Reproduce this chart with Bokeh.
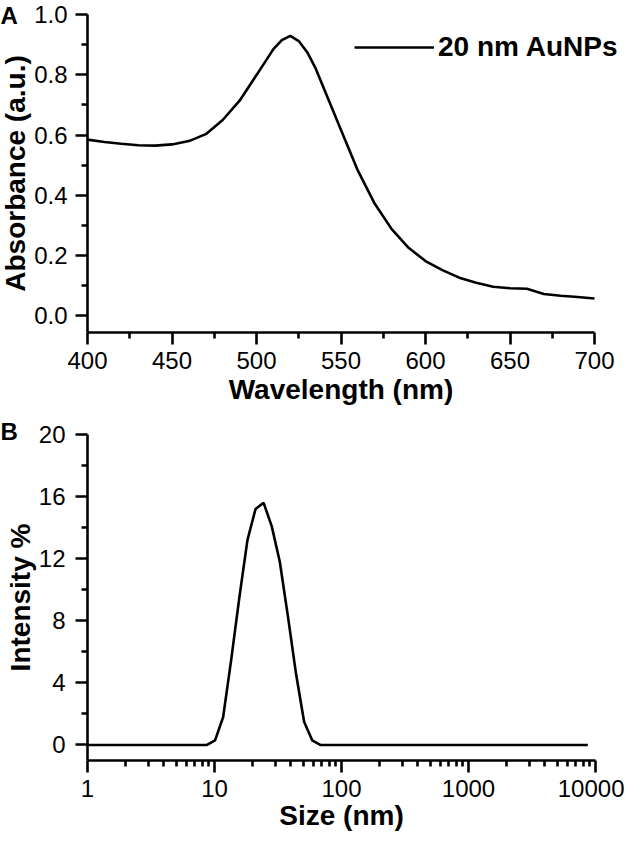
import math
from bokeh.plotting import figure
from bokeh.layouts import column
from bokeh.models import (FixedTicker, Range1d, Legend, LegendItem, Label,
                          PrintfTickFormatter)
from bokeh.embed import file_html
from bokeh.resources import INLINE

# ---- Panel A: UV-vis absorbance ----
wavelength = [400, 410, 420, 430, 440, 450, 460, 470, 480, 490, 500, 505, 510,
              515, 520, 525, 530, 535, 540, 545, 550, 560, 570, 580, 590, 600,
              610, 620, 630, 640, 650, 660, 670, 680, 690, 700]
absorbance = [0.585, 0.577, 0.571, 0.566, 0.565, 0.569, 0.580, 0.603, 0.650,
              0.714, 0.799, 0.842, 0.885, 0.915, 0.929, 0.912, 0.875, 0.821,
              0.753, 0.685, 0.617, 0.482, 0.372, 0.288, 0.226, 0.182, 0.152,
              0.127, 0.110, 0.097, 0.092, 0.090, 0.073, 0.067, 0.063, 0.058]
wl_bounds = (400, 700)
abs_bounds = (-0.055, 1.0)
wl_ticks = [400, 450, 500, 550, 600, 650, 700]
wl_minor = [425, 475, 525, 575, 625, 675]
abs_ticks = [0.0, 0.2, 0.4, 0.6, 0.8, 1.0]
abs_minor = [0.1, 0.3, 0.5, 0.7, 0.9]
legend_label = "20 nm AuNPs"

# ---- Panel B: DLS size distribution ----
size_nm = [1, 8.72, 10.1, 11.7, 13.54, 15.69, 18.17, 21.04, 24.36, 28.21,
           32.67, 37.84, 43.82, 50.75, 58.77, 68.06, 8700]
intensity = [0, 0, 0.3, 1.8, 5.5, 9.5, 13.2, 15.2, 15.6, 14.1, 11.8, 8.3,
             4.6, 1.5, 0.3, 0, 0]
size_bounds = (1, 10000)
int_bounds = (-1, 20)
size_ticks = [1, 10, 100, 1000, 10000]
size_minor = [m * d for d in (1, 10, 100, 1000) for m in range(2, 10)]
int_ticks = [0, 4, 8, 12, 16, 20]
int_minor = [2, 6, 10, 14, 18]

FONT = "Liberation Sans"
W = 624
H1 = 416
H2 = 424


def lin_range(va, pa, vb, pb, size):
    s = (vb - va) / (pb - pa)
    return va - pa * s, va + (size - pa) * s


def log_range(va, pa, vb, pb, size):
    a, b = lin_range(math.log10(va), pa, math.log10(vb), pb, size)
    return 10 ** a, 10 ** b


def style_axis(ax, ticks, minor, fmt):
    ax.ticker = FixedTicker(ticks=ticks, minor_ticks=minor)
    ax.formatter = PrintfTickFormatter(format=fmt)
    ax.axis_line_width = 2.6
    ax.axis_line_color = "black"
    ax.major_tick_line_width = 2.6
    ax.minor_tick_line_width = 2.6
    ax.major_tick_line_color = "black"
    ax.minor_tick_line_color = "black"
    ax.major_tick_out = 12
    ax.major_tick_in = 0
    ax.minor_tick_out = 6
    ax.minor_tick_in = 0
    ax.major_label_text_font = FONT
    ax.major_label_text_font_size = "24px"
    ax.major_label_text_color = "black"
    ax.axis_label_text_font = FONT
    ax.axis_label_text_font_style = "bold"
    ax.axis_label_text_font_size = "28px"
    ax.axis_label_text_color = "black"


def base_fig(**kw):
    p = figure(output_backend="svg", toolbar_location=None, min_border=0, **kw)
    p.grid.visible = False
    p.outline_line_color = None
    p.background_fill_color = "white"
    p.border_fill_color = "white"
    return p


# ---------- Panel A ----------
xr1 = lin_range(wl_bounds[0], 87, wl_bounds[1], 594, W)
yr1 = lin_range(abs_bounds[0], H1 - 332, abs_bounds[1], H1 - 14, H1)
p1 = base_fig(width=W, height=H1, x_range=Range1d(*xr1), y_range=Range1d(*yr1))
r1 = p1.line(wavelength, absorbance, line_color="black", line_width=2.6)
xa, ya = p1.xaxis[0], p1.yaxis[0]
style_axis(xa, wl_ticks, wl_minor, "%d")
style_axis(ya, abs_ticks, abs_minor, "%.1f")
xa.fixed_location = abs_bounds[0]
ya.fixed_location = wl_bounds[0]
xa.bounds = wl_bounds
ya.bounds = abs_bounds
xa.axis_label = "Wavelength (nm)"
ya.axis_label = "Absorbance (a.u.)"
xa.major_label_standoff = 7
xa.axis_label_standoff = 2
ya.major_label_standoff = 8
ya.axis_label_standoff = 0

leg = Legend(items=[LegendItem(label=legend_label, renderers=[r1])],
             location=(354, H1 - 63), glyph_width=80, glyph_height=30,
             label_height=30, label_standoff=4, padding=0, margin=0,
             spacing=0, border_line_color=None, background_fill_alpha=0,
             label_text_font=FONT, label_text_font_style="bold",
             label_text_font_size="28px", label_text_color="black")
p1.add_layout(leg)
p1.add_layout(Label(x=0, y=H1 - 1, x_units="screen", y_units="screen",
                    text="A", text_font=FONT, text_font_style="bold",
                    text_font_size="24px", text_color="black",
                    text_baseline="top"))

# ---------- Panel B ----------
xr2 = log_range(size_bounds[0], 87, size_bounds[1], 595, W)
yr2 = lin_range(int_bounds[0], H2 - 344, int_bounds[1], H2 - 18, H2)
p2 = base_fig(width=W, height=H2, x_axis_type="log",
              x_range=Range1d(*xr2), y_range=Range1d(*yr2))
p2.line(size_nm, intensity, line_color="black", line_width=2.6)
xb, yb = p2.xaxis[0], p2.yaxis[0]
style_axis(xb, size_ticks, size_minor, "%d")
style_axis(yb, int_ticks, int_minor, "%d")
xb.fixed_location = int_bounds[0]
yb.fixed_location = size_bounds[0]
xb.bounds = size_bounds
yb.bounds = int_bounds
xb.axis_label = "Size (nm)"
yb.axis_label = "Intensity %"
xb.major_label_standoff = 7
xb.axis_label_standoff = 0
yb.major_label_standoff = 10
yb.axis_label_standoff = 0
p2.add_layout(Label(x=0, y=H2 - 1, x_units="screen", y_units="screen",
                    text="B", text_font=FONT, text_font_style="bold",
                    text_font_size="24px", text_color="black",
                    text_baseline="top"))

layout = column(p1, p2)
open("out.html", "w").write(file_html(layout, INLINE))
